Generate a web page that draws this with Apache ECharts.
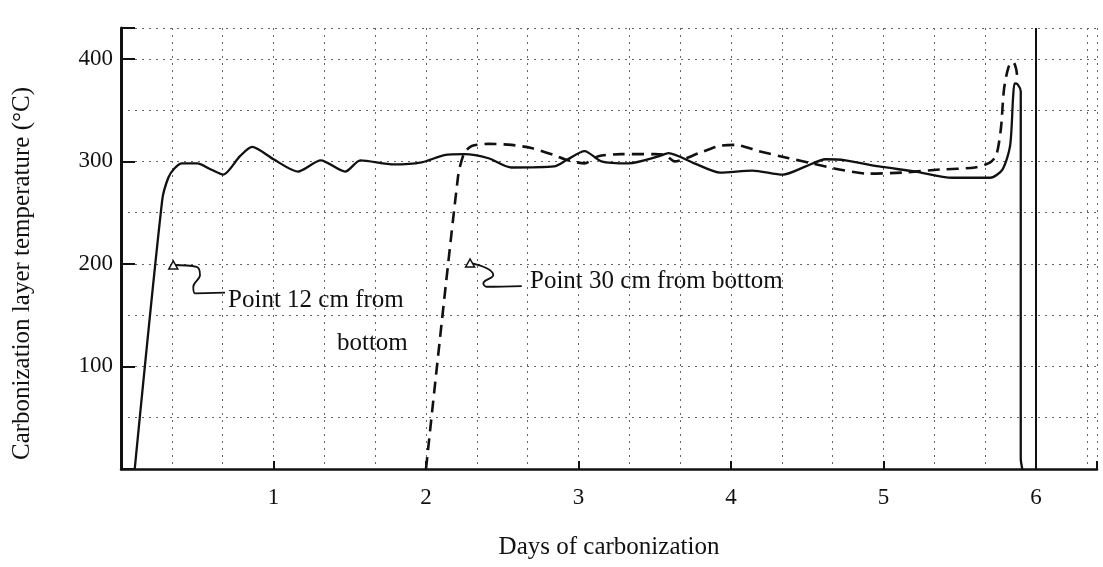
<!DOCTYPE html>
<html>
<head>
<meta charset="utf-8">
<script src="https://cdn.jsdelivr.net/npm/echarts@6/dist/echarts.min.js"></script>
<style>
  html, body { margin: 0; padding: 0; background: #fff; }
  #chart { width: 1103px; height: 567px; }
</style>
</head>
<body>
<div id="chart"></div>
<script>
// tick labels
const xTicks = [1, 2, 3, 4, 5, 6]
const yTicks = [100, 200, 300, 400]

// point 12 cm from bottom (solid)
const solidDays = [0.09, 0.27, 0.31, 0.35, 0.40, 0.50, 0.59, 0.67, 0.78, 0.86, 1.0, 1.16, 1.31, 1.47, 1.57, 1.79, 1.97, 2.12, 2.25, 2.41, 2.56, 2.84, 2.93, 3.04, 3.15, 3.33, 3.53, 3.59, 3.76, 3.93, 4.14, 4.34, 4.49, 4.62, 4.75, 4.97, 5.21, 5.45, 5.70, 5.78, 5.83, 5.85, 5.86, 5.88, 5.90, 5.90, 5.91]
const solidTemp = [0, 262, 284, 293, 298, 298, 292, 287, 305, 314, 302, 290, 301, 290, 301, 297, 299, 306, 307, 303, 294, 295, 302, 310, 300, 298, 305, 308, 298, 289, 291, 287, 295, 302, 301, 295, 290, 284, 284, 292, 315, 363, 376, 375, 368, 10, 0]

// point 30 cm from bottom (dashed)
const dashDays = [2.0, 2.21, 2.25, 2.30, 2.41, 2.56, 2.69, 2.84, 2.93, 3.04, 3.13, 3.28, 3.50, 3.57, 3.63, 3.79, 3.92, 4.03, 4.18, 4.38, 4.53, 4.71, 4.90, 5.12, 5.37, 5.60, 5.70, 5.74, 5.77, 5.79, 5.82, 5.85, 5.87, 5.88]
const dashTemp = [0, 285, 308, 315, 317, 316, 313, 306, 301, 298, 305, 307, 307, 306, 300, 308, 315, 316, 310, 303, 298, 292, 288, 289, 292, 294, 299, 306, 332, 370, 392, 397, 390, 378]

// annotation leader squiggles
const lead1Days = [0.343, 0.496, 0.518, 0.474, 0.485, 0.682]
const lead1Temp = [198.9, 197.2, 189.2, 177.7, 171.3, 171.9]
const lead2Days = [2.289, 2.398, 2.441, 2.376, 2.398, 2.628]
const lead2Temp = [200.9, 195.7, 189.2, 181.1, 177.7, 178.4]

const ink = '#111'
const font = 'Liberation Serif'

function pairs(xs, ys) {
  return xs.map((x, i) => [x, ys[i]])
}

// first point of a leader gets the little arrow head
function leader(xs, ys) {
  return pairs(xs, ys).map((p, i) => i === 0
    ? { value: p, symbol: 'triangle', symbolSize: [9, 8], symbolRotate: 0 }
    : { value: p, symbol: 'none' })
}

const chart = echarts.init(document.getElementById('chart'))

const gridLine = { lineStyle: { color: '#666', type: [2, 5], width: 1 } }

chart.setOption({
  animation: false,
  backgroundColor: '#fff',
  textStyle: { fontFamily: font, color: ink },
  grid: { left: 121, right: 6, top: 28, bottom: 98 },
  xAxis: {
    type: 'value',
    min: 0,
    max: 6.4,
    interval: 1,
    name: 'Days of carbonization',
    nameLocation: 'middle',
    nameGap: 66,
    nameTextStyle: { fontFamily: font, fontSize: 25, color: ink },
    axisLine: { lineStyle: { color: ink, width: 2.5 } },
    axisTick: { inside: true, length: 8, lineStyle: { color: ink, width: 2 } },
    axisLabel: {
      margin: 17,
      fontFamily: font,
      fontSize: 23,
      color: ink,
      formatter: v => xTicks.includes(v) ? String(v) : ''
    },
    splitLine: { show: true, ...gridLine },
    minorTick: { show: false, splitNumber: 3 },
    minorSplitLine: { show: true, ...gridLine }
  },
  yAxis: {
    type: 'value',
    min: 0,
    max: 430,
    interval: 100,
    name: 'Carbonization layer temperature (°C)',
    nameLocation: 'middle',
    nameGap: 86,
    nameTextStyle: { fontFamily: font, fontSize: 25, color: ink, padding: [0, 50, 0, 0] },
    axisLine: { show: true, lineStyle: { color: ink, width: 3 } },
    axisTick: { show: true, inside: true, length: 14, lineStyle: { color: ink, width: 2 } },
    axisLabel: {
      margin: 8,
      fontFamily: font,
      fontSize: 23,
      color: ink,
      formatter: v => yTicks.includes(v) ? String(v) : ''
    },
    splitLine: { show: true, ...gridLine },
    minorTick: { show: false, splitNumber: 2 },
    minorSplitLine: { show: true, ...gridLine }
  },
  series: [
    {
      name: 'Point 12 cm from bottom',
      type: 'line',
      data: pairs(solidDays, solidTemp),
      symbol: 'none',
      smooth: 0.25,
      lineStyle: { color: ink, width: 2.3 },
      z: 5,
      markLine: {
        silent: true,
        symbol: 'none',
        label: { show: false },
        lineStyle: { color: ink, width: 2, type: 'solid' },
        data: [{ xAxis: xTicks[5] }]
      }
    },
    {
      name: 'Point 30 cm from bottom',
      type: 'line',
      data: pairs(dashDays, dashTemp),
      symbol: 'none',
      smooth: 0.25,
      lineStyle: { color: ink, width: 2.6, type: [12, 7] },
      z: 5
    },
    {
      type: 'line',
      data: leader(lead1Days, lead1Temp),
      smooth: 0.4,
      showSymbol: true,
      itemStyle: { color: '#fff', borderColor: ink, borderWidth: 1.5 },
      lineStyle: { color: ink, width: 1.8 },
      z: 6,
      markPoint: {
        symbol: 'circle',
        symbolSize: 0,
        label: { show: true, position: 'right', distance: 0, fontFamily: font, fontSize: 25, color: ink, formatter: '{b}' },
        data: [
          { name: 'Point 12 cm from', coord: [0.702, 164.8] },
          { name: 'bottom', coord: [1.416, 122.9] }
        ]
      }
    },
    {
      type: 'line',
      data: leader(lead2Days, lead2Temp),
      smooth: 0.4,
      showSymbol: true,
      itemStyle: { color: '#fff', borderColor: ink, borderWidth: 1.5 },
      lineStyle: { color: ink, width: 1.8 },
      z: 6,
      markPoint: {
        symbol: 'circle',
        symbolSize: 0,
        label: { show: true, position: 'right', distance: 0, fontFamily: font, fontSize: 25, color: ink, formatter: '{b}' },
        data: [
          { name: 'Point 30 cm from bottom', coord: [2.682, 182.6] }
        ]
      }
    }
  ]
})
</script>
</body>
</html>
